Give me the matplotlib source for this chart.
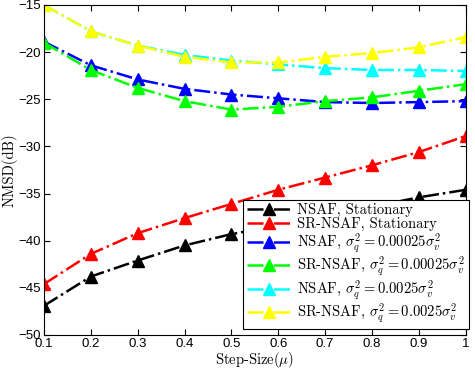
import numpy as np
import matplotlib
matplotlib.use("Agg")
import matplotlib.pyplot as plt

plt.rcParams['mathtext.fontset'] = 'cm'

step_size = [0.1, 0.2, 0.3, 0.4, 0.5, 0.6, 0.7, 0.8, 0.9, 1.0]

nsaf_stat = [-46.9, -43.8, -42.1, -40.5, -39.3, -38.4, -37.4, -36.4, -35.4, -34.6]
srnsaf_stat = [-44.6, -41.4, -39.2, -37.6, -36.1, -34.6, -33.3, -32.0, -30.6, -28.9]
nsaf_q1 = [-18.9, -21.4, -22.9, -23.9, -24.5, -24.9, -25.3, -25.4, -25.3, -25.2]
srnsaf_q1 = [-19.0, -21.9, -23.8, -25.2, -26.1, -25.8, -25.2, -24.8, -24.1, -23.4]
nsaf_q2 = [-15.0, -17.8, -19.3, -20.3, -20.9, -21.3, -21.7, -21.9, -21.9, -22.0]
srnsaf_q2 = [-15.0, -17.8, -19.3, -20.5, -21.1, -21.1, -20.5, -20.1, -19.5, -18.4]

series = [nsaf_stat, srnsaf_stat, nsaf_q1, srnsaf_q1, nsaf_q2, srnsaf_q2]
colors = ['black', 'red', 'blue', '#00ff00', 'cyan', 'yellow']
labels = ['NSAF, Stationary',
          'SR-NSAF, Stationary',
          r'NSAF, $\sigma_q^2=0.00025\sigma_v^2$',
          r'SR-NSAF, $\sigma_q^2=0.00025\sigma_v^2$',
          r'NSAF, $\sigma_q^2=0.0025\sigma_v^2$',
          r'SR-NSAF, $\sigma_q^2=0.0025\sigma_v^2$']

fig = plt.figure(figsize=(4.75, 3.7), dpi=100)
ax = fig.add_axes([0.0926, 0.0946, 0.888, 0.892])

for y, c, lab in zip(series, colors, labels):
    ax.plot(step_size, y, linestyle='-.', color=c, linewidth=1.8,
            marker='^', markersize=9, markerfacecolor=c, markeredgecolor=c,
            label=lab)

ax.set_xlim(0.1, 1.0)
ax.set_ylim(-50, -15)
ax.set_xticks([0.1, 0.2, 0.3, 0.4, 0.5, 0.6, 0.7, 0.8, 0.9, 1.0])
ax.set_xticklabels(['0.1', '0.2', '0.3', '0.4', '0.5', '0.6', '0.7', '0.8', '0.9', '1'])
ax.set_yticks([-50, -45, -40, -35, -30, -25, -20, -15])
ax.tick_params(direction='in', top=True, right=True, length=4, width=0.8,
               labelsize=9.5)
ax.tick_params(axis='x', pad=2.5)
ax.tick_params(axis='y', pad=2)
for t in ax.get_xticklabels() + ax.get_yticklabels():
    t.set_family('Liberation Sans')

ax.set_xlabel(r'Step-Size($\mu$)', family='cmr10', fontsize=10.5, labelpad=0)
ax.set_ylabel('NMSD(dB)', family='cmr10', fontsize=10.5, labelpad=1)

leg = ax.legend(loc='lower right', bbox_to_anchor=(1.007, 0.018),
                prop={'family': 'cmr10', 'size': 10.5}, frameon=True,
                fancybox=False, framealpha=1, edgecolor='black',
                handlelength=3.0, labelspacing=0.0, borderpad=0.25,
                handletextpad=0.45, borderaxespad=0)
leg.get_frame().set_linewidth(0.8)

fig.savefig('out.png', dpi=100)
